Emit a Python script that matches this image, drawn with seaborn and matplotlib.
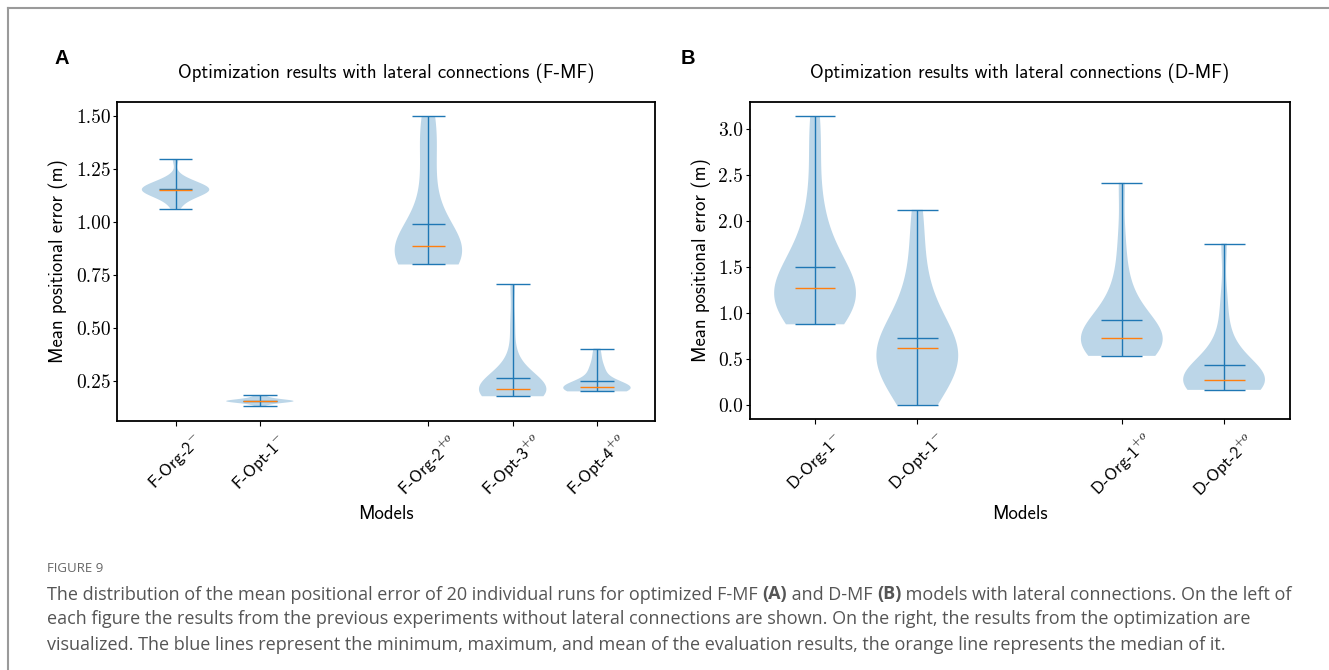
import numpy as np
import pandas as pd
import matplotlib
matplotlib.use("Agg")
import matplotlib.pyplot as plt
import seaborn as sns
from matplotlib.lines import Line2D

# ---------------- data (20 runs per model) ----------------
f_labels = [r"F-Org-2$^{-}$", r"F-Opt-1$^{-}$", r"F-Org-2$^{+o}$", r"F-Opt-3$^{+o}$", r"F-Opt-4$^{+o}$"]
d_labels = [r"D-Org-1$^{-}$", r"D-Opt-1$^{-}$", r"D-Org-1$^{+o}$", r"D-Opt-2$^{+o}$"]

f_org2_minus = [1.062, 1.095, 1.110, 1.120, 1.128, 1.135, 1.140, 1.145, 1.148, 1.150,
                1.154, 1.158, 1.162, 1.166, 1.172, 1.178, 1.185, 1.195, 1.210, 1.297]
f_opt1_minus = [0.130, 0.138, 0.143, 0.146, 0.148, 0.150, 0.151, 0.152, 0.153, 0.154,
                0.155, 0.156, 0.157, 0.158, 0.160, 0.162, 0.165, 0.169, 0.174, 0.182]
f_org2_plus = [0.799, 0.805, 0.812, 0.820, 0.828, 0.836, 0.845, 0.855, 0.865, 0.878,
               0.890, 0.905, 0.940, 0.990, 1.050, 1.150, 1.260, 1.360, 1.450, 1.499]
f_opt3_plus = [0.177, 0.182, 0.187, 0.191, 0.195, 0.199, 0.202, 0.205, 0.207, 0.209,
               0.211, 0.214, 0.218, 0.225, 0.235, 0.265, 0.300, 0.370, 0.520, 0.705]
f_opt4_plus = [0.200, 0.203, 0.206, 0.209, 0.211, 0.213, 0.215, 0.216, 0.217, 0.218,
               0.220, 0.222, 0.225, 0.240, 0.255, 0.285, 0.300, 0.320, 0.360, 0.402]

d_org1_minus = [0.876, 0.920, 0.980, 1.030, 1.080, 1.120, 1.160, 1.200, 1.230, 1.255,
                1.285, 1.345, 1.420, 1.520, 1.620, 1.750, 1.950, 2.250, 2.750, 3.140]
d_opt1_minus = [0.000, 0.080, 0.170, 0.250, 0.320, 0.390, 0.450, 0.500, 0.550, 0.600,
                0.640, 0.690, 0.740, 0.800, 0.900, 1.030, 1.180, 1.400, 1.750, 2.122]
d_org1_plus = [0.533, 0.560, 0.590, 0.620, 0.645, 0.665, 0.685, 0.700, 0.712, 0.722,
               0.734, 0.750, 0.800, 0.870, 0.950, 1.050, 1.200, 1.400, 1.800, 2.415]
d_opt2_plus = [0.163, 0.180, 0.195, 0.210, 0.222, 0.235, 0.245, 0.255, 0.262, 0.268,
               0.276, 0.290, 0.310, 0.355, 0.410, 0.500, 0.620, 0.800, 1.150, 1.754]

f_series = [f_org2_minus, f_opt1_minus, f_org2_plus, f_opt3_plus, f_opt4_plus]
d_series = [d_org1_minus, d_opt1_minus, d_org1_plus, d_opt2_plus]

f_yticks = [0.25, 0.50, 0.75, 1.00, 1.25, 1.50]
d_yticks = [0.0, 0.5, 1.0, 1.5, 2.0, 2.5, 3.0]

# layout: slot positions (gap between "without" and "with" lateral connections)
f_pos = [1, 2, 4, 5, 6]
d_pos = [1, 2, 4, 5]

# ---------------- style ----------------
plt.rcParams["mathtext.fontset"] = "cm"
plt.rcParams["axes.unicode_minus"] = False

W, H = 1329, 670
fig = plt.figure(figsize=(W / 100, H / 100), dpi=100, facecolor="white")

BODY = "#bcd6e8"
C0 = "#1f77b4"
C1 = "#ff7f0e"
VW = 0.8


def panel(rect, series, pos, labels, yticks, yfmt):
    ax = fig.add_axes(rect)
    df = pd.DataFrame({
        "pos": np.concatenate([[p] * len(s) for p, s in zip(pos, series)]),
        "value": np.concatenate(series),
    })
    sns.violinplot(data=df, x="pos", y="value", native_scale=True, cut=0, inner=None,
                   density_norm="width", width=VW, color=BODY, saturation=1,
                   linewidth=0, bw_method="scott", ax=ax)
    for c in ax.collections:
        c.set_edgecolor("none")
    for p, s in zip(pos, series):
        a = np.asarray(s)
        ax.vlines(p, a.min(), a.max(), color=C0, lw=1.0)
        ax.hlines([a.mean(), a.min(), a.max()], p - VW / 4, p + VW / 4, color=C0, lw=1.0)
        ax.hlines(np.median(a), p - VW / 4, p + VW / 4, color=C1, lw=1.0)
    ax.set_xticks(pos, labels=labels, rotation=45, fontfamily="cmss10", fontsize=12.5)
    ax.set_yticks(yticks, labels=[yfmt.format(v) for v in yticks],
                  fontfamily="cmr10", fontsize=14)
    ax.tick_params(axis="y", length=3, pad=1.5)
    ax.tick_params(axis="x", length=3.5, pad=4)
    for sp in ax.spines.values():
        sp.set_linewidth(1.3)
        sp.set_color("black")
    ax.set_xlabel("Models", fontfamily="cmss10", fontsize=13.5, va="center")
    ax.set_ylabel("Mean positional error (m)", fontfamily="cmss10", fontsize=13.5,
                  va="center", ha="center")
    return ax


ax1 = panel([117.4 / W, 1 - 420.7 / H, 537.7 / W, 319 / H], f_series, f_pos, f_labels,
            f_yticks, "{:.2f}")
ax2 = panel([749.6 / W, 1 - 419.3 / H, 539.9 / W, 317.6 / H], d_series, d_pos, d_labels,
            d_yticks, "{:.1f}")

ax1.xaxis.set_label_coords(0.5, -(514 - 420.7) / 319)
ax2.xaxis.set_label_coords(0.5, -(514 - 419.3) / 317.6)
ax1.yaxis.set_label_coords((58.0 - 117.4) / 537.7, 0.5)
ax2.yaxis.set_label_coords((701.0 - 749.6) / 539.9, 0.5)

fig.text(386.3 / W, 1 - 73 / H, "Optimization results with lateral connections (F-MF)",
         fontfamily="cmss10", fontsize=13.5, ha="center", va="center")
fig.text(1019.5 / W, 1 - 73 / H, "Optimization results with lateral connections (D-MF)",
         fontfamily="cmss10", fontsize=13.5, ha="center", va="center")

fig.text(61.5 / W, 1 - 59 / H, "A", fontfamily="Liberation Sans", fontweight="bold",
         fontsize=14.5, ha="center", va="center")
fig.text(688 / W, 1 - 59 / H, "B", fontfamily="Liberation Sans", fontweight="bold",
         fontsize=14.5, ha="center", va="center")

# page frame
fig.add_artist(Line2D([7.5 / W, 7.5 / W], [0, 1 - 7.5 / H], transform=fig.transFigure,
                      color="#9a9a9a", lw=1.5))
fig.add_artist(Line2D([7.5 / W, 1], [1 - 7.5 / H, 1 - 7.5 / H], transform=fig.transFigure,
                      color="#9a9a9a", lw=1.5))

# caption
CAP = "#555555"
fig.text(47 / W, 1 - 569 / H, "FIGURE 9", fontfamily="Open Sans", fontsize=9.5,
         color="#666666", ha="left", va="center")

cap_lines = [
    [("The distribution of the mean positional error of 20 individual runs for optimized F-MF ", "normal"),
     ("(A)", "bold"), (" and D-MF ", "normal"), ("(B)", "bold"),
     (" models with lateral connections. On the left of", "normal")],
    [("each figure the results from the previous experiments without lateral connections are shown. "
      "On the right, the results from the optimization are", "normal")],
    [("visualized. The blue lines represent the minimum, maximum, and mean of the evaluation results, "
      "the orange line represents the median of it.", "normal")],
]
renderer = fig.canvas.get_renderer()
for i, segs in enumerate(cap_lines):
    x = 47
    y = 1 - (594.5 + 25 * i) / H
    for txt, wt in segs:
        t = fig.text(x / W, y, txt, fontfamily="Open Sans", fontsize=13, color=CAP,
                     fontweight=wt, ha="left", va="center")
        bb = t.get_window_extent(renderer)
        x += bb.width

fig.savefig("out.png", dpi=100, facecolor="white")
